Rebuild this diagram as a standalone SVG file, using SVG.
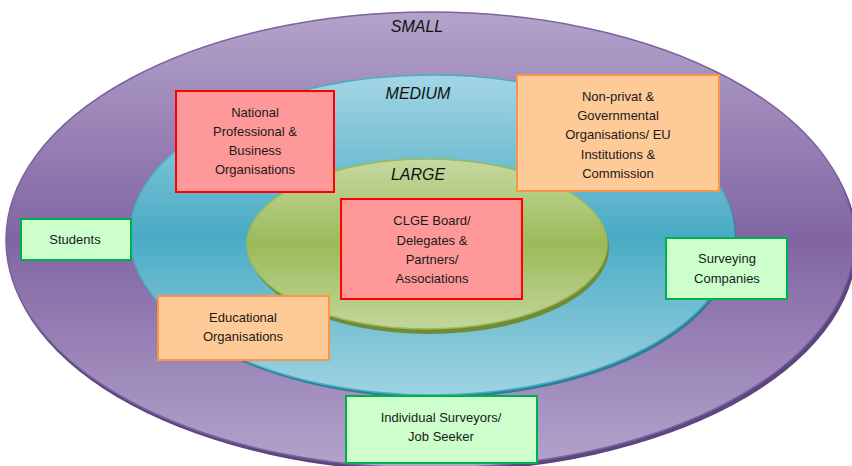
<svg xmlns="http://www.w3.org/2000/svg" width="852" height="466" viewBox="0 0 852 466">
<defs>
<linearGradient id="gP" x1="0" y1="0" x2="0" y2="1">
<stop offset="0" stop-color="#b3a3ca"/><stop offset="0.5" stop-color="#8165a3"/><stop offset="1" stop-color="#b3a4cb"/>
</linearGradient>
<linearGradient id="gT" x1="0" y1="0" x2="0" y2="1">
<stop offset="0" stop-color="#a3d6e4"/><stop offset="0.5" stop-color="#4aabc5"/><stop offset="1" stop-color="#9fd3e1"/>
</linearGradient>
<linearGradient id="gG" x1="0" y1="0" x2="0" y2="1">
<stop offset="0" stop-color="#c6d9a0"/><stop offset="0.5" stop-color="#9bbb59"/><stop offset="1" stop-color="#c2d69b"/>
</linearGradient>
<style>
.lbl{font-family:"Liberation Sans",Arial,sans-serif;font-size:16px;font-style:italic;fill:#111;text-anchor:middle}
.t{font-family:"Liberation Sans",Arial,sans-serif;font-size:13px;fill:#1a1a1a;text-anchor:middle}
.red{fill:#ff9999;stroke:#ff0000;stroke-width:2}
.org{fill:#fdca98;stroke:#f79646;stroke-width:2}
.grn{fill:#ccffcc;stroke:#00b050;stroke-width:2}
</style>
</defs>
<g id="rings">
<ellipse cx="432" cy="244" rx="425" ry="228" fill="#5d4680"/>
<ellipse cx="430" cy="240" rx="424" ry="228" fill="url(#gP)" stroke="#7b61a0" stroke-width="1.5"/>
<ellipse cx="434" cy="238" rx="302" ry="160" fill="#2e7f95"/>
<ellipse cx="432" cy="235" rx="302" ry="160" fill="url(#gT)" stroke="#4bacc6" stroke-width="1.5"/>
<ellipse cx="429" cy="248" rx="180" ry="86" fill="#6f8b35"/>
<ellipse cx="427" cy="244" rx="180" ry="85" fill="url(#gG)" stroke="#9bbb59" stroke-width="1.5"/>
<text class="lbl" x="417" y="32">SMALL</text>
<text class="lbl" x="418" y="99">MEDIUM</text>
<text class="lbl" x="418" y="180">LARGE</text>
</g>
<g id="connectors"></g>
<g id="national">
<rect class="red" x="176" y="91" width="158" height="101"/>
<text class="t" x="255" y="117">National</text>
<text class="t" x="255" y="136">Professional &amp;</text>
<text class="t" x="255" y="155">Business</text>
<text class="t" x="255" y="174">Organisations</text>
</g>
<g id="nonprivat">
<rect class="org" x="517" y="75" width="202" height="116"/>
<text class="t" x="618" y="101">Non-privat &amp;</text>
<text class="t" x="618" y="120">Governmental</text>
<text class="t" x="618" y="139">Organisations/ EU</text>
<text class="t" x="618" y="159">Institutions &amp;</text>
<text class="t" x="618" y="178">Commission</text>
</g>
<g id="clge">
<rect class="red" x="341" y="199" width="181" height="100"/>
<text class="t" x="432" y="225">CLGE Board/</text>
<text class="t" x="432" y="245">Delegates &amp;</text>
<text class="t" x="432" y="264">Partners/</text>
<text class="t" x="432" y="283">Associations</text>
</g>
<g id="students">
<rect class="grn" x="21" y="219" width="110" height="41"/>
<text class="t" x="75" y="244">Students</text>
</g>
<g id="surveying">
<rect class="grn" x="666" y="238" width="121" height="61"/>
<text class="t" x="727" y="263">Surveying</text>
<text class="t" x="727" y="283">Companies</text>
</g>
<g id="educational">
<rect class="org" x="158" y="296" width="171" height="64"/>
<text class="t" x="243" y="322">Educational</text>
<text class="t" x="243" y="341">Organisations</text>
</g>
<g id="individual">
<rect class="grn" x="346" y="396" width="191" height="67"/>
<text class="t" x="441" y="422">Individual Surveyors/</text>
<text class="t" x="441" y="441">Job Seeker</text>
</g>
</svg>
